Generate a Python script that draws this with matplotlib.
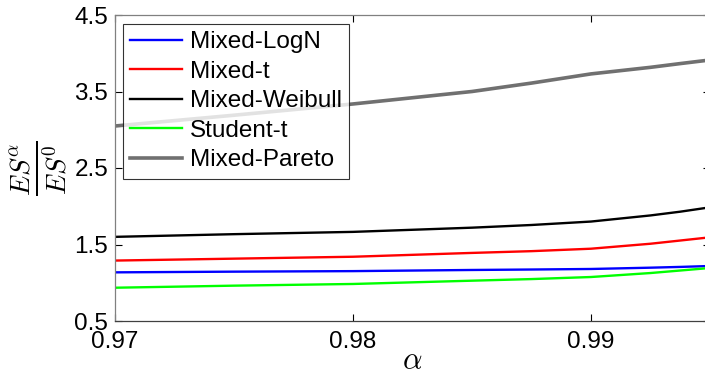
import matplotlib
matplotlib.use("Agg")
import matplotlib.pyplot as plt

alpha = [0.970, 0.975, 0.980, 0.985, 0.9875, 0.990, 0.9925, 0.99375, 0.995]
mixed_logn = [1.136, 1.145, 1.152, 1.167, 1.173, 1.180, 1.197, 1.207, 1.219]
mixed_t = [1.290, 1.315, 1.340, 1.390, 1.413, 1.445, 1.510, 1.552, 1.594]
mixed_weibull = [1.600, 1.635, 1.665, 1.720, 1.755, 1.800, 1.880, 1.929, 1.986]
student_t = [0.935, 0.962, 0.984, 1.027, 1.048, 1.075, 1.127, 1.160, 1.193]
mixed_pareto = [3.049, 3.190, 3.337, 3.500, 3.610, 3.730, 3.816, 3.865, 3.912]

labels = ["Mixed-LogN", "Mixed-t", "Mixed-Weibull", "Student-t", "Mixed-Pareto"]
xticks = [0.97, 0.98, 0.99]
yticks = [0.5, 1.5, 2.5, 3.5, 4.5]

plt.rcParams['font.family'] = ['Liberation Sans', 'DejaVu Sans']
plt.rcParams['mathtext.fontset'] = 'cm'

W, H = 705, 377
fig = plt.figure(figsize=(W / 100, H / 100), dpi=100)
ax = fig.add_axes([115 / W, (H - 321) / H, (710 - 115) / W, (321 - 15) / H])

series = [mixed_logn, mixed_t, mixed_weibull, student_t, mixed_pareto]
colors = ['#0000ff', '#ff0000', '#000000', '#00ff00', '#707070']
widths = [1.7, 1.7, 1.7, 1.7, 2.6]
for s, c, w, lab in zip(series, colors, widths, labels):
    ax.plot(alpha, s, color=c, lw=w, label=lab)

ax.set_xlim(0.97, 0.995)
ax.set_ylim(0.5, 4.5)
ax.set_xticks(xticks)
ax.set_xticklabels(['0.97', '0.98', '0.99'])
ax.set_yticks(yticks)
ax.set_yticklabels(['0.5', '1.5', '2.5', '3.5', '4.5'])
ax.tick_params(direction='in', length=5, width=0.8, top=True, right=True,
               labelsize=17.5, colors='#000000')
ax.tick_params(axis='x', pad=7)
ax.tick_params(axis='y', pad=5)
for sp in ['top', 'left', 'right']:
    ax.spines[sp].set_color('#808080')
ax.spines['bottom'].set_color('#404040')
for sp in ax.spines.values():
    sp.set_linewidth(0.9)

ax.set_xlabel(r'$\alpha$', fontsize=22, labelpad=-5)
ax.set_ylabel(r'$\frac{ES^{\alpha}}{ES^{0}}$', fontsize=28, labelpad=2)

leg = ax.legend(loc='upper left', bbox_to_anchor=((123 - 115) / 595, (321 - 24) / 306),
                borderaxespad=0, fontsize=17.5, frameon=True, fancybox=False,
                handlelength=2.14, handletextpad=0.3, labelspacing=0.31,
                borderpad=0.3)
leg.get_frame().set_edgecolor('#000000')
leg.get_frame().set_linewidth(0.8)

fig.savefig('out.png', dpi=100)
